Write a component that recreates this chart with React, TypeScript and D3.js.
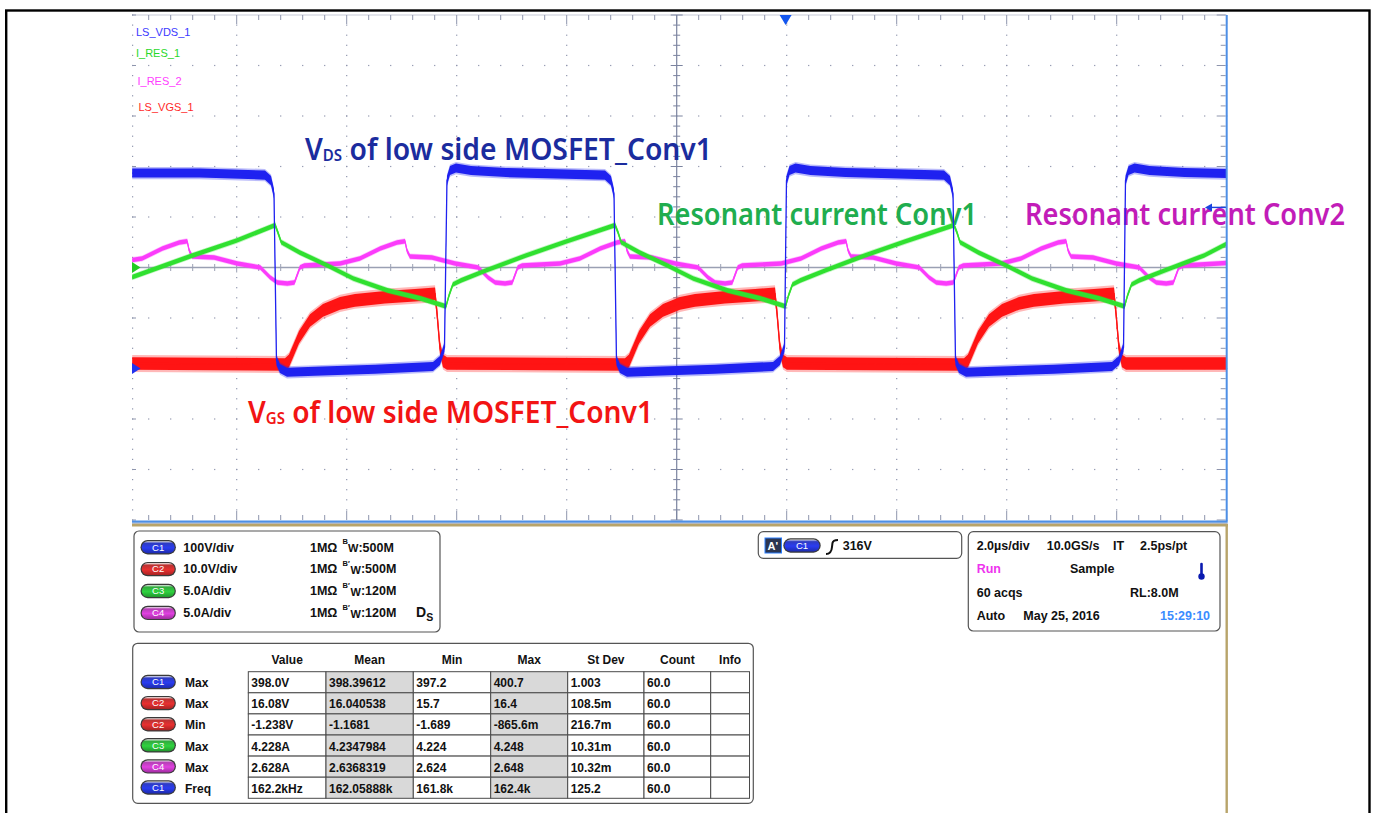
import React from "react";
import * as d3 from "d3";

// ---------------- waveform data (time in µs, values in channel units) ----------------
// C1 LS_VDS_1 (V)
const vdsT = [-9.9, -8.67, -7.486, -7.376, -7.322, -7.277, -7.213, -7.086, -6.576, -5.485, -4.431, -4.304, -4.222,
  -4.177, -4.122, -4.013, -3.74, -3.104, -1.304, -1.195, -1.14, -1.095, -1.031, -0.904, -0.395, 0.696, 1.751, 1.878, 1.96,
  1.996, 2.051, 2.16, 2.433, 3.069, 4.86, 4.969, 5.024, 5.069, 5.133, 5.26, 5.769, 6.86, 7.915, 8.042, 8.124,
  8.16, 8.215, 8.324, 8.597, 9.233, 10.0];
const vdsV = [387, 387, 383, 372, 346, 16, 0, -7.5, -5.5, -1.6, 4, 16, 42,
  372, 392, 397, 392, 388, 383, 372, 346, 16, 0, -7.5, -5.5, -1.6, 4, 16, 42,
  372, 392, 397, 392, 388, 383, 372, 346, 16, 0, -7.5, -5.5, -1.6, 4, 16, 42,
  372, 392, 397, 392, 388, 386];

// C2 LS_VGS_1 (V)
const vgsT = [-9.9, -7.122, -7.049, -6.867, -6.667, -6.431, -6.122, -5.849, -5.304, -4.758, -4.394, -4.358, -4.304, -4.249, -4.177,
  -0.94, -0.867, -0.685, -0.485, -0.249, 0.06, 0.333, 0.878, 1.424, 1.787, 1.824, 1.878, 1.933, 2.005,
  5.224, 5.296, 5.478, 5.678, 5.915, 6.224, 6.496, 7.042, 7.587, 7.951, 7.987, 8.042, 8.096, 8.169, 10.0];
const vgsV = [1.0, 0.8, 1.5, 6.2, 9.5, 11.5, 12.9, 13.5, 14.1, 14.5, 14.8, 11.0, 4.0, 1.5, 1.0,
  0.8, 1.5, 6.2, 9.5, 11.5, 12.9, 13.5, 14.1, 14.5, 14.8, 11.0, 4.0, 1.5, 1.0,
  0.8, 1.5, 6.2, 9.5, 11.5, 12.9, 13.5, 14.1, 14.5, 14.8, 11.0, 4.0, 1.5, 1.0, 1.0];

// C3 I_RES_1 (A)
const ires1T = [-9.9, -8.85, -8.0, -7.30, -7.25, -7.19, -6.85, -6.35, -5.88, -5.26, -4.66, -4.195,
  -4.14, -4.07, -3.92, -3.47, -2.74, -2.01, -1.12, -1.065, -1.01, -0.67, -0.17, 0.30, 0.92, 1.52, 1.978,
  2.033, 2.105, 2.25, 2.70, 3.42, 4.15, 5.042, 5.097, 5.152, 5.49, 5.99, 6.46, 7.08, 7.68, 8.142,
  8.197, 8.27, 8.41, 8.87, 9.59, 10.0];
const ires1A = [-0.95, 1.1, 2.67, 4.2, 3.46, 2.5, 1.48, 0.2, -1.09, -2.27, -3.06, -3.85,
  -2.77, -1.68, -1.28, -0.3, 1.19, 2.57, 4.2, 3.46, 2.5, 1.48, 0.2, -1.09, -2.27, -3.06, -3.85,
  -2.77, -1.68, -1.28, -0.3, 1.19, 2.57, 4.2, 3.46, 2.5, 1.48, 0.2, -1.09, -2.27, -3.06, -3.85,
  -2.77, -1.68, -1.28, -0.3, 1.19, 2.35];

// C4 I_RES_2 (A)
const ires2T = [-9.9, -9.72, -9.35, -9.045, -8.90, -8.864, -8.81, -8.41, -7.99, -7.57, -7.39, -7.26, -7.08, -6.95, -6.85, -6.77,
  -6.12, -5.76, -5.39, -5.085, -4.94, -4.904, -4.85, -4.45, -4.03, -3.61, -3.43, -3.30, -3.12, -2.99, -2.89, -2.81,
  -2.12, -1.76, -1.39, -1.085, -0.94, -0.904, -0.85, -0.45, -0.03, 0.39, 0.57, 0.70, 0.88, 1.01, 1.11, 1.19,
  1.90, 2.26, 2.63, 2.935, 3.08, 3.116, 3.17, 3.57, 3.99, 4.41, 4.59, 4.72, 4.90, 5.03, 5.13, 5.21,
  5.90, 6.26, 6.63, 6.935, 7.08, 7.116, 7.17, 7.57, 7.99, 8.41, 8.59, 8.72, 8.90, 9.03, 9.13, 9.21, 10.0];
const ires2A = [0.75, 0.89, 1.88, 2.47, 2.6, 1.68, 1.09, 0.99, 0.40, 0.0, -0.99, -1.48, -1.58, -1.48, 0.0, 0.2,
  0.40, 0.89, 1.88, 2.47, 2.6, 1.68, 1.09, 0.99, 0.40, 0.0, -0.99, -1.48, -1.58, -1.48, 0.0, 0.2,
  0.40, 0.89, 1.88, 2.47, 2.6, 1.68, 1.09, 0.99, 0.40, 0.0, -0.99, -1.48, -1.58, -1.48, 0.0, 0.2,
  0.40, 0.89, 1.88, 2.47, 2.6, 1.68, 1.09, 0.99, 0.40, 0.0, -0.99, -1.48, -1.58, -1.48, 0.0, 0.2,
  0.40, 0.89, 1.88, 2.47, 2.6, 1.68, 1.09, 0.99, 0.40, 0.0, -0.99, -1.48, -1.58, -1.48, 0.0, 0.2, 0.45];

// ---------------- labels / text data ----------------
const traceNames = ["LS_VDS_1", "I_RES_1", "I_RES_2", "LS_VGS_1"];
const chanIds = ["C1", "C2", "C3", "C4"];
const chanScaleText = ["100V/div", "10.0V/div", "5.0A/div", "5.0A/div"];
const chanImpedance = ["1MΩ", "1MΩ", "1MΩ", "1MΩ"];
const chanBandwidth = [":500M", ":500M", ":120M", ":120M"];
const chanBwPrime = [false, true, true, true];

const measHeaders = ["Value", "Mean", "Min", "Max", "St Dev", "Count", "Info"];
const measChan = ["C1", "C2", "C2", "C3", "C4", "C1"];
const measType = ["Max", "Max", "Min", "Max", "Max", "Freq"];
const measValue = ["398.0V", "16.08V", "-1.238V", "4.228A", "2.628A", "162.2kHz"];
const measMean = ["398.39612", "16.040538", "-1.1681", "4.2347984", "2.6368319", "162.05888k"];
const measMin = ["397.2", "15.7", "-1.689", "4.224", "2.624", "161.8k"];
const measMax = ["400.7", "16.4", "-865.6m", "4.248", "2.648", "162.4k"];
const measStd = ["1.003", "108.5m", "216.7m", "10.31m", "10.32m", "125.2"];
const measCount = ["60.0", "60.0", "60.0", "60.0", "60.0", "60.0"];
const measInfo = ["", "", "", "", "", ""];

// ---------------- geometry ----------------
const xS = d3.scaleLinear().domain([-10, 10]).range([126.7, 1226.7]);
const yS = d3.scaleLinear().domain([-5, 5]).range([520, 15]);
const PL = 132, PR = 1226.7, PT = 15, PB = 520;

const chanColor: Record<string, string> = { C1: "#2a3cf0", C2: "#e83030", C3: "#2fd23f", C4: "#e040e0" };

type Ch = { scale: number; offset: number; noise: number; color: string };
const CH1: Ch = { scale: 100, offset: -2, noise: 9, color: "#1f22f0" };
const CH2: Ch = { scale: 10, offset: -2, noise: 1.25, color: "#ff1414" };
const CH3: Ch = { scale: 5, offset: 0, noise: 0.23, color: "#30e030" };
const CH4: Ch = { scale: 5, offset: 0, noise: 0.22, color: "#fb3cfb" };

function Trace({ t, v, ch }: { t: number[]; v: number[]; ch: Ch }) {
  const pts = t.map((x, i) => [x, v[i]] as [number, number]);
  const yv = (val: number) => yS(val / ch.scale + ch.offset);
  const band = (h: number) =>
    d3.area<[number, number]>().x((d) => xS(d[0])).y0((d) => yv(d[1] - h)).y1((d) => yv(d[1] + h))(pts) || "";
  const line = d3.line<[number, number]>().x((d) => xS(d[0])).y((d) => yv(d[1]))(pts) || "";
  return (
    <g>
      <path d={band(ch.noise * 1.35)} fill={ch.color} opacity={0.3} />
      <path d={band(ch.noise)} fill={ch.color} />
      <path d={line} fill="none" stroke={ch.color} strokeWidth={1.3} />
    </g>
  );
}

function Pill({ x, cy, w = 33, h = 12, label }: { x: number; cy: number; w?: number; h?: number; label: string }) {
  return (
    <g>
      <rect x={x - 1.2} y={cy - h / 2 - 1.2} width={w + 2.4} height={h + 2.4} rx={(h + 2.4) / 2} fill="#3a3a3a" />
      <rect x={x} y={cy - h / 2} width={w} height={h} rx={h / 2} fill={`url(#grad${label})`} />
      <text x={x + w / 2} y={cy + 3.3} textAnchor="middle" fontSize={9.5} fill="#fff" fontWeight="normal"
        fontFamily="Liberation Sans, Arial, sans-serif">
        {label}
      </text>
    </g>
  );
}

export default function App() {
  const font = "Liberation Sans, Arial, Helvetica, sans-serif";
  const xMinor = d3.range(-10, 10.0001, 0.4).map((d) => xS(d)).filter((x) => x >= PL - 0.5);
  const xMajor = d3.range(-10, 10.0001, 2).map((d) => xS(d)).filter((x) => x >= PL - 0.5);
  const yMinor = d3.range(-5, 5.0001, 0.2).map((d) => yS(d));
  const yMajor = d3.range(-5, 5.0001, 1).map((d) => yS(d));
  const isMajorX = (x: number) => xMajor.some((m) => Math.abs(m - x) < 0.5);
  const isMajorY = (y: number) => yMajor.some((m) => Math.abs(m - y) < 0.5);
  const cx = xS(0), cy = yS(0);
  const gridCol = "#8e95ad";

  const dots: JSX.Element[] = [];
  xMajor.forEach((x, i) => {
    if (Math.abs(x - cx) < 1 || x > PR - 1) return;
    yMinor.forEach((y, j) => {
      if (y <= PT + 1 || y >= PB - 1) return;
      dots.push(<rect key={`dv${i}-${j}`} x={x - 0.6} y={y - 0.6} width={1.2} height={1.2} fill={gridCol} />);
    });
  });
  yMajor.forEach((y, i) => {
    if (Math.abs(y - cy) < 1 || y <= PT + 1 || y >= PB - 1) return;
    xMinor.forEach((x, j) => {
      dots.push(<rect key={`dh${i}-${j}`} x={x - 0.6} y={y - 0.6} width={1.2} height={1.2} fill={gridCol} />);
    });
  });

  const colEdges = [248.3, 326, 413.3, 490.7, 567.7, 644, 710.7, 749.5];
  const rowTop0 = 671.7, rowH = 21.1;
  const measCols = [measValue, measMean, measMin, measMax, measStd, measCount, measInfo];

  return (
    <svg width={1375} height={813} style={{ position: "absolute", left: 0, top: 0, background: "#fff" }}>
      <defs>
        <clipPath id="plotClip">
          <rect x={PL} y={PT} width={PR - PL} height={PB - PT} />
        </clipPath>
        {chanIds.map((c) => (
          <linearGradient key={c} id={`grad${c}`} x1="0" y1="0" x2="0" y2="1">
            <stop offset="0" stopColor="#ffffff" stopOpacity={0.9} />
            <stop offset="0.18" stopColor={chanColor[c]} stopOpacity={0.75} />
            <stop offset="0.55" stopColor={chanColor[c]} />
            <stop offset="1" stopColor={d3.color(chanColor[c])!.darker(0.9).toString()} />
          </linearGradient>
        ))}
      </defs>
      <rect x={0} y={0} width={1375} height={813} fill="#fff" />
      {/* outer frame */}
      <rect x={6.2} y={10.5} width={1363.3} height={900} fill="none" stroke="#000" strokeWidth={2.4} />

      {/* grid */}
      <g>
        {dots}
        <line x1={PL} x2={PR} y1={PT} y2={PT} stroke="#c7cbd8" strokeWidth={1} />
        {xMinor.map((x, i) => (
          <line key={`tt${i}`} x1={x} x2={x} y1={PT} y2={PT + (isMajorX(x) ? 9 : 5)} stroke={gridCol} strokeWidth={1} />
        ))}
        {xMinor.map((x, i) => (
          <line key={`bt${i}`} x1={x} x2={x} y1={PB} y2={PB - (isMajorX(x) ? 9 : 5)} stroke={gridCol} strokeWidth={1} />
        ))}
        {yMajor.map((y, i) => (
          <line key={`lt${i}`} x1={PL} x2={PL + 4} y1={y} y2={y} stroke={gridCol} strokeWidth={1} />
        ))}
        {yMinor.map((y, i) => (
          <rect key={`ld${i}`} x={PL} y={y - 0.6} width={1.2} height={1.2} fill={gridCol} />
        ))}
        {yMinor.map((y, i) => (
          <line key={`rt${i}`} x1={PR - 1} x2={PR - 1 - (isMajorY(y) ? 9 : 5)} y1={y} y2={y} stroke={gridCol} strokeWidth={1} />
        ))}
        <line x1={cx} x2={cx} y1={PT} y2={PB} stroke="#7b839f" strokeWidth={1.2} />
        {yMinor.map((y, i) => (
          <line key={`cv${i}`} x1={cx - (isMajorY(y) ? 6 : 3.5)} x2={cx + (isMajorY(y) ? 6 : 3.5)} y1={y} y2={y} stroke="#7b839f" strokeWidth={1} />
        ))}
        <line x1={PL} x2={PR} y1={cy} y2={cy} stroke="#9aa0b3" strokeWidth={1.6} />
        {xMinor.map((x, i) => (
          <line key={`ch${i}`} x1={x} x2={x} y1={cy - (isMajorX(x) ? 5 : 3.5)} y2={cy + (isMajorX(x) ? 5 : 3.5)} stroke="#9aa0b3" strokeWidth={1} />
        ))}
      </g>

      {/* trace name labels */}
      {traceNames.map((n, i) => (
        <text key={n} x={[136, 136, 137.5, 138.5][i]} y={[36, 57, 85, 111][i]} fontSize={11} fontFamily={font}
          fill={["#3a3aff", "#2ad82a", "#ff40ff", "#ff2a2a"][i]}>
          {n}
        </text>
      ))}

      {/* annotations */}
      <g fontFamily="Noto Sans, Open Sans, sans-serif" fontWeight={600}>
        <text x={305} y={160} fontSize={30} fill="#1b2c9e" textLength={407} lengthAdjust="spacingAndGlyphs">
          <tspan>V</tspan>
          <tspan fontSize={16} dy={1}>DS</tspan>
          <tspan dy={-1}>{"\u00a0of low side MOSFET_Conv1"}</tspan>
        </text>
        <text x={657} y={225} fontSize={30} fill="#20ad4e" textLength={320} lengthAdjust="spacingAndGlyphs">
          Resonant current Conv1
        </text>
        <text x={1025} y={225} fontSize={30} fill="#c21cb8" textLength={320} lengthAdjust="spacingAndGlyphs">
          Resonant current Conv2
        </text>
        <text x={248} y={422.7} fontSize={30} fill="#f21414" textLength={405} lengthAdjust="spacingAndGlyphs">
          <tspan>V</tspan>
          <tspan fontSize={16} dy={1}>GS</tspan>
          <tspan dy={-1}>{"\u00a0of low side MOSFET_Conv1"}</tspan>
        </text>
      </g>

      {/* traces */}
      <g clipPath="url(#plotClip)">
        <Trace t={ires2T} v={ires2A} ch={CH4} />
        <Trace t={vgsT} v={vgsV} ch={CH2} />
        <Trace t={ires1T} v={ires1A} ch={CH3} />
        <Trace t={vdsT} v={vdsV} ch={CH1} />
      </g>

      {/* markers */}
      <polygon points={`${PL},${cy - 5.5} ${PL + 8.5},${cy} ${PL},${cy + 5.5}`} fill="#22cc22" />
      <polygon points={`${PL},${yS(-2) - 5.5} ${PL + 8.5},${yS(-2)} ${PL},${yS(-2) + 5.5}`} fill="#2233ee" />
      <polygon points={`${xS(1.98) - 6},${PT} ${xS(1.98) + 6},${PT} ${xS(1.98)},${PT + 10}`} fill="#1256f0" />
      <polygon points={`${1205},${yS(1.19)} ${1212},${yS(1.19) - 4} ${1212},${yS(1.19) + 4}`} fill="#1a44e0" />
      <line x1={1212} x2={PR} y1={yS(1.19)} y2={yS(1.19)} stroke="#1a44e0" strokeWidth={1.4} />

      {/* plot border lines */}
      <line x1={PR} x2={PR} y1={PT} y2={521} stroke="#4d8fe6" strokeWidth={2} />
      <line x1={PL} x2={PR + 1} y1={521.6} y2={521.6} stroke="#4d8fe6" strokeWidth={2.2} />
      <line x1={PL} x2={PR + 1} y1={523.4} y2={523.4} stroke="#9a9a9a" strokeWidth={0.8} />
      <line x1={PL} x2={PR + 1.2} y1={525.2} y2={525.2} stroke="#b8a46a" strokeWidth={2.4} />
      <line x1={PR} x2={PR} y1={524} y2={813} stroke="#b8a46a" strokeWidth={2.4} />

      {/* channel settings panel */}
      <g fontFamily={font} fontWeight="bold" fontSize={12.5} fill="#111">
        <rect x={134} y={531} width={306} height={101} rx={5} fill="#fff" stroke="#555" strokeWidth={1.2} />
        {chanIds.map((c, i) => {
          const b = 551.5 + 21.9 * i;
          return (
            <g key={c}>
              <Pill x={141.7} cy={b - 4.3} label={c} />
              <text x={183.3} y={b}>{chanScaleText[i]}</text>
              <text x={310} y={b}>{chanImpedance[i]}</text>
              <text x={342.5} y={b}>
                <tspan fontSize={7.5} dy={-7.5}>{chanBwPrime[i] ? "B′" : "B"}</tspan>
                <tspan fontSize={11} x={chanBwPrime[i] ? 350.5 : 348} dy={8}>W</tspan>
                <tspan dy={-0.5}>{chanBandwidth[i]}</tspan>
              </text>
            </g>
          );
        })}
        <text x={416} y={617} fontSize={14}>
          D<tspan fontSize={10.5} dy={3.5}>S</tspan>
        </text>
      </g>

      {/* trigger panel */}
      <g fontFamily={font} fontWeight="bold" fontSize={12.5} fill="#111">
        <rect x={758.3} y={531.7} width={203.4} height={26.6} rx={5} fill="#fff" stroke="#555" strokeWidth={1.2} />
        <rect x={765} y={538} width={16.5} height={15} fill="#2b3550" stroke="#2a7fff" strokeWidth={1} />
        <text x={767.5} y={550} fontSize={11} fill="#fff">A'</text>
        <Pill x={784.5} cy={545.5} w={35} label="C1" />
        <path d="M826,554 Q831.5,554 832,547 L832.5,543 Q833,540 838,540" fill="none" stroke="#111" strokeWidth={2} />
        <text x={842.7} y={550}>316V</text>
      </g>

      {/* timebase panel */}
      <g fontFamily={font} fontWeight="bold" fontSize={12.5} fill="#111">
        <rect x={968.3} y={531.7} width={251.7} height={99.3} rx={5} fill="#fff" stroke="#555" strokeWidth={1.2} />
        <text x={976.7} y={550}>2.0µs/div</text>
        <text x={1046.7} y={550}>10.0GS/s</text>
        <text x={1113} y={550}>IT</text>
        <text x={1140} y={550}>2.5ps/pt</text>
        <text x={976.7} y={573} fill="#ee33ee">Run</text>
        <text x={1070} y={573}>Sample</text>
        <line x1={1201.5} x2={1201.5} y1={564} y2={575} stroke="#0a1ab0" strokeWidth={2.6} strokeLinecap="round" />
        <circle cx={1201.5} cy={576.5} r={3.2} fill="#0a1ab0" />
        <text x={976.7} y={596.5}>60 acqs</text>
        <text x={1130} y={596.5}>RL:8.0M</text>
        <text x={976.7} y={620}>Auto</text>
        <text x={1023.3} y={620}>May 25, 2016</text>
        <text x={1160} y={620} fill="#3a8cff">15:29:10</text>
      </g>

      {/* measurement table */}
      <g fontFamily={font} fontWeight="bold" fontSize={12} fill="#111">
        <rect x={132.7} y={643.3} width={620.6} height={160} rx={5} fill="#fff" stroke="#555" strokeWidth={1.2} />
        {measHeaders.map((h, j) => (
          <text key={h} x={(colEdges[j] + colEdges[j + 1]) / 2} y={664} textAnchor="middle">{h}</text>
        ))}
        {measType.map((mt, i) => {
          const top = rowTop0 + rowH * i;
          return (
            <g key={i}>
              <Pill x={141.7} cy={top + 10.3} label={measChan[i]} />
              <text x={185} y={top + 15.5}>{mt}</text>
              {measCols.map((col, j) => (
                <g key={j}>
                  <rect x={colEdges[j]} y={top} width={colEdges[j + 1] - colEdges[j]} height={rowH}
                    fill={j === 1 || j === 3 ? "#d9d9d9" : "#fff"} stroke="#4a4a4a" strokeWidth={1} />
                  <text x={colEdges[j] + 3} y={top + 15.5}>{col[i]}</text>
                </g>
              ))}
            </g>
          );
        })}
      </g>
    </svg>
  );
}
